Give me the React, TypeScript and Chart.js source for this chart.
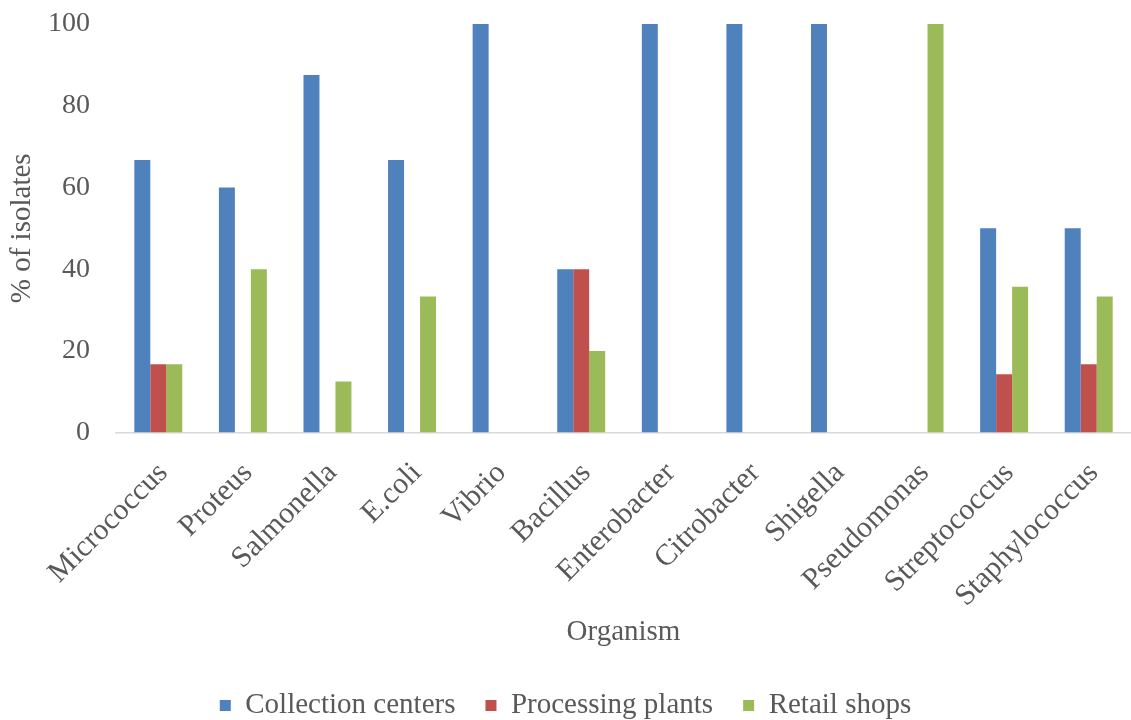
import React, { useEffect, useRef } from "react";
import { Chart, registerables } from "chart.js";

Chart.register(...registerables);

const categories = [
  "Micrococcus", "Proteus", "Salmonella", "E.coli", "Vibrio", "Bacillus",
  "Enterobacter", "Citrobacter", "Shigella", "Pseudomonas", "Streptococcus", "Staphylococcus",
];
const collectionCenters = [66.7, 60, 87.5, 66.7, 100, 40, 100, 100, 100, 0, 50, 50];
const processingPlants = [16.7, 0, 0, 0, 0, 40, 0, 0, 0, 0, 14.3, 16.7];
const retailShops = [16.7, 40, 12.5, 33.3, 0, 20, 0, 0, 0, 100, 35.7, 33.3];
const yTicks = [0, 20, 40, 60, 80, 100];

const FONT = "'Liberation Serif', 'Times New Roman', serif";
const TEXT = "#595959";

export default function App() {
  const ref = useRef<HTMLCanvasElement | null>(null);
  useEffect(() => {
    if (!ref.current) return;
    const chart = new Chart(ref.current, {
      type: "bar",
      data: {
        labels: categories,
        datasets: [
          { label: "Collection centers", data: collectionCenters, backgroundColor: "#4F81BD", borderWidth: 0 },
          { label: "Processing plants", data: processingPlants, backgroundColor: "#C0504D", borderWidth: 0 },
          { label: "Retail shops", data: retailShops, backgroundColor: "#9BBB59", borderWidth: 0 },
        ],
      },
      options: {
        animation: false,
        responsive: true,
        maintainAspectRatio: false,
        layout: { padding: { top: 24, right: 0, left: 0, bottom: -10 } },
        datasets: { bar: { categoryPercentage: 0.567, barPercentage: 1 } },
        plugins: {
          tooltip: { enabled: false },
          legend: {
            position: "bottom",
            labels: {
              boxWidth: 11,
              boxHeight: 11,
              padding: 30,
              color: TEXT,
              font: { family: FONT, size: 29 },
            },
          },
        },
        scales: {
          x: {
            grid: { display: false, drawTicks: false },
            border: { display: true, color: "#D9D9D9", width: 1.5 },
            afterFit: (axis: any) => {
              axis.paddingLeft = 0;
              axis.paddingRight = 0;
              axis.height = axis.height - 7;
            },
            ticks: {
              autoSkip: false,
              minRotation: 45,
              maxRotation: 45,
              padding: 23,
              labelOffset: 5,
              color: TEXT,
              font: { family: FONT, size: 30 },
            },
            title: {
              display: true,
              text: "Organism",
              color: TEXT,
              font: { family: FONT, size: 29 },
              padding: { top: -15, bottom: 11 },
            },
          },
          y: {
            min: 0,
            max: 100,
            afterBuildTicks: (axis: any) => {
              axis.ticks = yTicks.map((v) => ({ value: v }));
            },
            afterFit: (axis: any) => {
              axis.width = 116;
              axis.paddingTop = 0;
              axis.paddingBottom = 0;
            },
            grid: { display: false, drawTicks: false },
            border: { display: false },
            ticks: {
              padding: 26,
              color: TEXT,
              font: { family: FONT, size: 28 },
            },
            title: {
              display: true,
              text: "% of isolates",
              color: TEXT,
              font: { family: FONT, size: 29 },
              padding: { top: 5, bottom: 8 },
            },
          },
        },
      },
    });
    return () => chart.destroy();
  }, []);
  return (
    <div style={{ position: "absolute", left: 0, top: 0, width: 1131, height: 720, background: "#fff" }}>
      <canvas ref={ref} />
    </div>
  );
}
